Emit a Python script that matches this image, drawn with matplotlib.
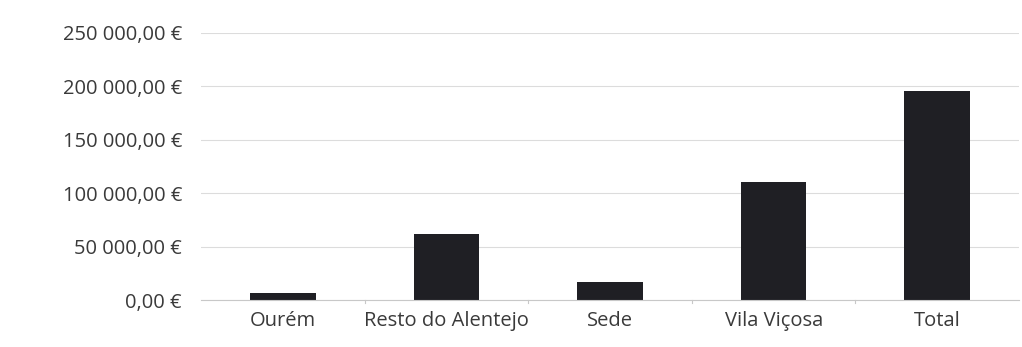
import matplotlib
matplotlib.use("Agg")
import matplotlib.pyplot as plt
from matplotlib.ticker import FuncFormatter

categories = ["Ourém", "Resto do Alentejo", "Sede", "Vila Viçosa", "Total"]
values = [6500, 61500, 17000, 111000, 196000]
y_ticks = [0, 50000, 100000, 150000, 200000, 250000]

plt.rcParams["font.family"] = ["Open Sans", "DejaVu Sans"]

fig = plt.figure(figsize=(10.22, 3.47), dpi=100)
ax = fig.add_axes([0.197, 0.135, 0.8, 0.77])

x = range(len(categories))
ax.bar(x, values, width=0.4, color="#1f1f24", zorder=2)

ax.set_xlim(-0.5, len(categories) - 0.5)
ax.set_ylim(0, 250000)
ax.set_yticks(y_ticks)


def euro(v, _pos):
    whole = f"{int(v):,}".replace(",", " ")
    return f"{whole},00 €"


ax.yaxis.set_major_formatter(FuncFormatter(euro))
ax.set_xticks(list(x))
ax.set_xticklabels(categories)
ax.tick_params(axis="y", length=0, pad=14, labelsize=14.5, labelcolor="#3a3a3a")
ax.tick_params(axis="x", length=0, pad=8, labelsize=14.5, labelcolor="#3a3a3a")

ax.grid(axis="y", color="#dcdcdc", lw=0.8, zorder=0)
for side in ("top", "right", "left"):
    ax.spines[side].set_visible(False)
ax.spines["bottom"].set_color("#c8c8c8")

# small boundary ticks between categories on the baseline
for b in [i - 0.5 for i in range(1, len(categories))]:
    ax.plot([b, b], [0, -2500], color="#c8c8c8", lw=0.8, clip_on=False)

fig.savefig("out.png", dpi=100)
